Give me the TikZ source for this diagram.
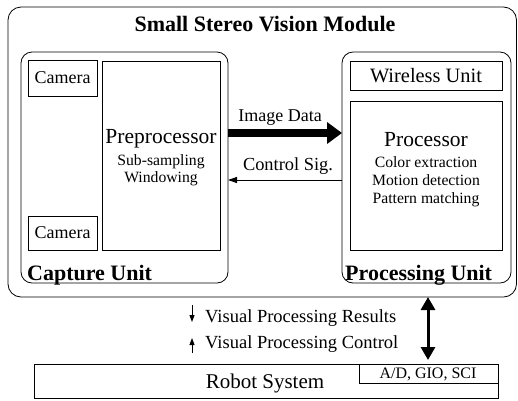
\documentclass[tikz,border=0pt]{standalone}
\usepackage{fontspec}
\setmainfont{Liberation Serif}
\usetikzlibrary{arrows.meta}
\begin{document}
\begin{tikzpicture}[x=1pt,y=-1pt,
  frame/.style={draw, line width=0.8pt, inner sep=0pt, outer sep=0pt, anchor=north west},
  rframe/.style={frame, rounded corners=11pt},
  lbl/.style={inner sep=0pt, anchor=base},
  bigarrow/.style={line width=8pt, -{Triangle[length=15pt,width=21pt]}},
  thinarrow/.style={line width=0.9pt, -{Triangle[length=9pt,width=6pt]}},
  dblarrow/.style={line width=3pt, {Triangle[length=13pt,width=14pt]}-{Triangle[length=13pt,width=14pt]}},
  smallarrow/.style={line width=0.9pt, -{Triangle[length=7pt,width=5pt]}}]
\useasboundingbox (0,0) rectangle (518,400);
% containers
\node[rframe, rounded corners=13pt, minimum width=508.5pt, minimum height=290pt] (svm) at (8,7) {};
\node[rframe, minimum width=207pt, minimum height=231pt] (capture) at (21,52) {};
\node[rframe, minimum width=169pt, minimum height=231pt] (punit) at (342,52) {};
% inner boxes
\node[frame, minimum width=69pt, minimum height=36pt] (cam1) at (28,60) {};
\node[inner sep=0pt] at (cam1.center) {\fontsize{18}{20}\selectfont Camera};
\node[frame, minimum width=69pt, minimum height=34pt] (cam2) at (28,216) {};
\node[inner sep=0pt] at (cam2.center) {\fontsize{18}{20}\selectfont Camera};
\node[frame, minimum width=118pt, minimum height=189pt] (pre) at (102,61) {};
\node[frame, minimum width=152pt, minimum height=29pt] (wire) at (350,61) {};
\node[inner sep=0pt] at (wire.center) {\fontsize{20.4}{22}\selectfont Wireless Unit};
\node[frame, minimum width=152pt, minimum height=149pt] (proc) at (350,101) {};
\node[frame, minimum width=464pt, minimum height=34pt] (robot) at (34,364) {};
\node[frame, minimum width=139pt, minimum height=19pt] (ad) at (359,364) {};
% texts
\node[lbl, font=\bfseries\fontsize{22}{24}\selectfont] (title) at (265,31) {Small Stereo Vision Module};
\node[lbl, anchor=base west, font=\bfseries\fontsize{22}{24}\selectfont] (capl) at (27,280) {Capture Unit};
\node[lbl, anchor=base west, font=\bfseries\fontsize{22}{24}\selectfont] (procl) at (345,280) {Processing Unit};
\node[lbl, font=\fontsize{21.5}{24}\selectfont] (pret) at (161,143) {Preprocessor};
\node[lbl, font=\fontsize{15.7}{18}\selectfont] (pre1) at (161,165) {Sub-sampling};
\node[lbl, font=\fontsize{15.7}{18}\selectfont] (pre2) at (161,182) {Windowing};
\node[lbl, font=\fontsize{21.5}{24}\selectfont] (proct) at (426,146) {Processor};
\node[lbl, font=\fontsize{15.7}{18}\selectfont] (proc1) at (426,167) {Color extraction};
\node[lbl, font=\fontsize{15.7}{18}\selectfont] (proc2) at (426,185) {Motion detection};
\node[lbl, font=\fontsize{15.7}{18}\selectfont] (proc3) at (426,203) {Pattern matching};
\node[lbl, font=\fontsize{18}{20}\selectfont] (imgl) at (280,121) {Image Data};
\node[lbl, font=\fontsize{18.4}{20}\selectfont] (ctll) at (288,170) {Control Sig.};
\node[lbl, anchor=base west, font=\fontsize{18.5}{20}\selectfont] (vr) at (205,322) {Visual Processing Results};
\node[lbl, anchor=base west, font=\fontsize{18.5}{20}\selectfont] (vc) at (205,348) {Visual Processing Control};
\node[lbl, font=\fontsize{21}{24}\selectfont] (robl) at (265,388) {Robot System};
\node[lbl, font=\fontsize{16}{18}\selectfont] (adl) at (428,378) {A/D, GIO, SCI};
% connectors
\draw[bigarrow] (capture.east |- 0,133) -- (punit.west |- 0,133);
\draw[thinarrow] (punit.west |- 0,180) -- (capture.east |- 0,180);
\draw[dblarrow] (svm.south -| 428,0) -- ([yshift=4pt]ad.north -| 428,0);
\coordinate (d1) at (192,305);
\coordinate (d2) at (192,322);
\coordinate (u1) at (192,353);
\coordinate (u2) at (192,338);
\draw[smallarrow] (d1) -- (d2);
\draw[smallarrow] (u1) -- (u2);
\end{tikzpicture}
\end{document}
